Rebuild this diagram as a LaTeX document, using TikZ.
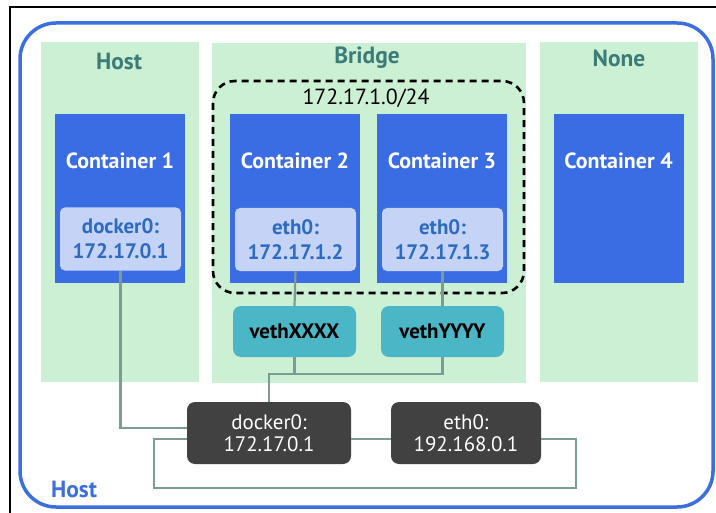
\documentclass[tikz,border=0pt]{standalone}
\usepackage{fontspec}
\setmainfont{PT Sans}
\usetikzlibrary{calc}
\definecolor{hostblue}{HTML}{3B6FE0}
\definecolor{zone}{HTML}{CCF0D4}
\definecolor{ctr}{HTML}{3A6CE3}
\definecolor{iface}{HTML}{C5D4F6}
\definecolor{ifacetext}{HTML}{2C6BC2}
\definecolor{titlecol}{HTML}{3B7C78}
\definecolor{vethcol}{HTML}{4BB6C6}
\definecolor{darkbox}{HTML}{414141}
\definecolor{wire}{HTML}{7D9B95}
\begin{document}
\begin{tikzpicture}[x=1bp,y=-1bp,
  zonebox/.style={fill=zone, draw=none, inner sep=0pt, minimum width=158bp, minimum height=340bp},
  ctrbox/.style={fill=ctr, draw=none, inner sep=0pt, minimum width=130bp, minimum height=168bp},
  ifbox/.style={fill=iface, draw=none, rounded corners=5bp, inner sep=0pt, minimum width=121bp, minimum height=63bp,
    align=center, text=ifacetext, font=\fontsize{21}{25}\selectfont\bfseries},
  vethbox/.style={fill=vethcol, draw=none, rounded corners=8bp, inner sep=0pt, minimum width=123bp, minimum height=51bp,
    text=black, font=\fontsize{21}{24}\selectfont\bfseries},
  darknode/.style={fill=darkbox, draw=none, rounded corners=8bp, inner sep=0pt, minimum height=62bp,
    align=center, text=white, font=\fontsize{21}{22}\selectfont},
  zonetitle/.style={text=titlecol, font=\fontsize{23.5}{26}\selectfont\bfseries},
  ctrtitle/.style={text=white, font=\fontsize{22}{24}\selectfont\bfseries},
  wireline/.style={draw=wire, line width=2.2bp}
]
\useasboundingbox (0,0) rectangle (716,513);
\fill[white] (0,0) rectangle (716,513);
\draw[black, line width=2bp] (10,7) rectangle (740,540);
\draw[hostblue, line width=3.5bp, rounded corners=36bp] (20,23) rectangle (713,507);
\node[text=hostblue, font=\fontsize{23.5}{26}\selectfont\bfseries] (hostlabel) at (74,489) {Host};

% zones
\node[zonebox] (zhost) at (120,212) {};
\node[zonebox, minimum width=314bp] (zbridge) at (369,213) {};
\node[zonebox] (znone) at (619,212) {};
\node[zonetitle] (thost) at (119,61) {Host};
\node[zonetitle] (tbridge) at (367,58) {Bridge};
\node[zonetitle] (tnone) at (619,58) {None};

% subnet
\draw[black, line width=2.6bp, dash pattern=on 7bp off 5bp, rounded corners=22bp] (213,81) rectangle (524,293);
\node[font=\fontsize{22}{24}\selectfont] (subnet) at (366,98) {172.17.1.0/24};

% containers
\node[ctrbox] (c1) at (120,198.5) {};
\node[ctrbox] (c2) at (295,198.5) {};
\node[ctrbox] (c3) at (442,198.5) {};
\node[ctrbox] (c4) at (618.5,198.5) {};
\node[ctrtitle] (c1t) at (120,161) {Container 1};
\node[ctrtitle] (c2t) at (295,161) {Container 2};
\node[ctrtitle] (c3t) at (442,161) {Container 3};
\node[ctrtitle] (c4t) at (618.5,161) {Container 4};

\node[ifbox] (if1) at (120.5,239) {docker0:\\172.17.0.1};
\node[ifbox] (if2) at (295.5,239.5) {eth0:\\172.17.1.2};
\node[ifbox] (if3) at (442.5,239.5) {eth0:\\172.17.1.3};

\node[vethbox] (vx) at (294.5,331.5) {vethXXXX};
\node[vethbox] (vy) at (442.5,331.5) {vethYYYY};

\node[darknode, minimum width=164bp] (d0) at (269,433) {docker0:\\172.17.0.1};
\node[darknode, minimum width=150bp] (e0) at (466,433) {eth0:\\192.168.0.1};

% wires
\coordinate (lp1) at (154,488);
\coordinate (lp2) at (576,488);
\draw[wireline] (if1.south) |- ($(d0.west)+(0,-5)$);
\draw[wireline] (if2.south) -- (vx.north);
\draw[wireline] (if3.south) -- (vy.north);
\draw[wireline] (vx.south) -- ++(0,17);
\draw[wireline] (d0.north) |- ($(vy.south)+(0,17)$) -- (vy.south);
\draw[wireline] ($(d0.west)+(0,6)$) -| (lp1) -- (lp2) |- ($(e0.east)+(0,6)$);
\draw[wireline] ($(d0.east)+(0,6)$) -- ($(e0.west)+(0,6)$);
\end{tikzpicture}
\end{document}
